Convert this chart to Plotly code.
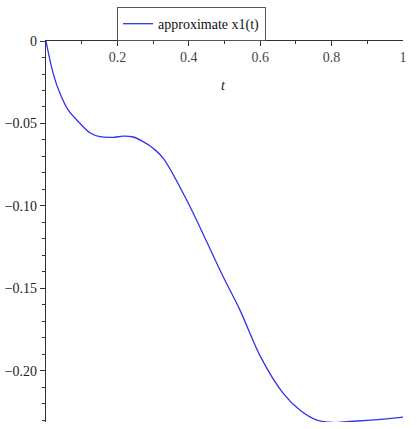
import plotly.graph_objects as go

t = [0, 0.02, 0.039, 0.062, 0.095, 0.123, 0.151, 0.188, 0.216, 0.244, 0.272, 0.300, 0.328,
     0.394, 0.496, 0.543, 0.603, 0.664, 0.71, 0.757, 0.804, 0.85, 0.9, 0.944, 1.0]
x1 = [0, -0.0196, -0.0317, -0.0418, -0.0499, -0.0556, -0.058, -0.0584, -0.0577, -0.0582, -0.061,
      -0.065, -0.071, -0.0964, -0.1428, -0.1630, -0.1923, -0.2135, -0.2236, -0.2297, -0.2313,
      -0.2307, -0.2300, -0.2293, -0.228]

x_ticks = [0.2, 0.4, 0.6, 0.8, 1]
x_labels = ["0.2", "0.4", "0.6", "0.8", "1"]
y_ticks = [0, -0.05, -0.10, -0.15, -0.20]
y_labels = ["0", "\u22120.05", "\u22120.10", "\u22120.15", "\u22120.20"]

font = "Times New Roman"

fig = go.Figure()
fig.add_trace(go.Scatter(x=t, y=x1, mode="lines", name="approximate x1(t)",
                         line=dict(color="rgb(50,50,235)", width=1.3, shape="spline", smoothing=1.0)))

fig.update_layout(
    width=417, height=429,
    margin=dict(l=46, r=14, t=41, b=7),
    paper_bgcolor="white", plot_bgcolor="white",
    font=dict(family=font, size=14, color="#222"),
    showlegend=True,
    legend=dict(x=0.199, y=1.089, xanchor="left", yanchor="top",
                bordercolor="#555", borderwidth=1, font=dict(family=font, size=14, color="#111"),
                bgcolor="white", tracegroupgap=0, itemwidth=30),
    xaxis=dict(range=[0, 1], side="top", showline=True, linecolor="#333", linewidth=1.2,
               showgrid=False, zeroline=False, tickvals=x_ticks, ticktext=x_labels,
               ticks="inside", ticklen=5, tickcolor="#333", ticklabelposition="inside",
               ticklabeloverflow="allow", ticklabelstandoff=6, automargin=False,
               minor=dict(tickvals=[0.1, 0.3, 0.5, 0.7, 0.9], ticks="inside", ticklen=3, tickcolor="#333")),
    yaxis=dict(range=[-0.231, 0.00001], showline=True, linecolor="#333", linewidth=1.2,
               showgrid=False, zeroline=False, tickvals=y_ticks, ticktext=y_labels,
               ticks="outside", ticklen=5, tickcolor="#333", ticklabeloverflow="allow",
               automargin=False,
               minor=dict(tick0=0, dtick=0.01, ticks="outside", ticklen=3, tickcolor="#333")),
    annotations=[dict(text="<i>t</i>", x=0.498, y=1 - (76 - 41) / 381, xref="x", yref="paper",
                      showarrow=False, font=dict(family=font, size=14, color="#222"))],
)
fig.write_html("out.html")
